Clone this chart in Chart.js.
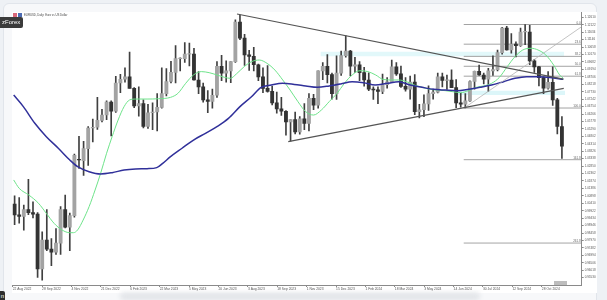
<!DOCTYPE html>
<html><head><meta charset="utf-8">
<script src="https://cdn.jsdelivr.net/npm/chart.js@4.4.1/dist/chart.umd.min.js"></script>
<style>
html,body{margin:0;padding:0;width:607px;height:300px;overflow:hidden;background:#eef1f5;font-family:"Liberation Sans",Arial,sans-serif;}
#card{position:absolute;left:3px;top:3px;width:594px;height:310px;background:#f7f8fa;border:1px solid #e1e5eb;border-radius:6px;box-sizing:border-box;}
#win{position:absolute;left:12px;top:12px;width:585px;height:281px;background:#fff;}
#shadow{position:absolute;left:120px;top:292px;width:360px;height:8px;background:linear-gradient(#e9ebee,#dfe2e6);border-radius:4px;filter:blur(2px);}
#c{position:absolute;left:0;top:0;}
#title{position:absolute;left:24px;top:12.5px;font-size:2.8px;color:#444;white-space:nowrap;}
.flag{position:absolute;top:13px;width:4.5px;height:3.6px;}
#badge{position:absolute;left:0;top:17px;width:23px;height:11px;background:#3b3b3b;border-radius:0 2px 2px 0;color:#fff;font-size:6px;line-height:11px;text-indent:2px;}
#badge2{position:absolute;left:-18px;top:291px;width:23px;height:11px;background:#2e2e2e;border-radius:2px;color:#fff;font-size:6px;line-height:10px;text-align:right;padding-right:1px;box-sizing:border-box;}
#marker{position:absolute;left:554px;top:281px;width:13px;height:3.5px;background:#bdbdbd;}
</style></head>
<body>
<div id="card"></div>
<div id="win"></div>
<div id="shadow"></div>
<canvas id="c" width="607" height="300"></canvas>
<div class="flag" style="left:12.5px;background:#d9687a"></div>
<div class="flag" style="left:17.5px;background:#4d6bb3"></div>
<div id="title">EURUSD, Daily: Euro vs US Dollar</div>
<div id="badge">zForex</div>
<div id="badge2">n</div>
<div id="marker"></div>
<script>
// ---- DATA (EUR/USD, one candle per 5 bars of the daily chart) ----
const opens = [
1.0035,0.9965,0.9955,1.0000,0.9980,0.9970,0.9610,0.9800,0.9740,0.9720,
0.9780,1.0000,0.9885,0.9960,1.0330,1.0320,1.0400,1.0535,1.0540,1.0585,
1.0620,1.0705,1.0645,1.0830,1.0855,1.0870,1.0795,1.0680,1.0695,1.0545,
1.0635,1.0640,1.0670,1.0760,1.0840,1.0900,1.0990,1.0990,1.1020,1.1020,
1.0850,1.0805,1.0720,1.0710,1.0750,1.0940,1.0895,1.0910,1.0970,1.1230,
1.1125,1.1015,1.1005,1.0950,1.0870,1.0795,1.0775,1.0700,1.0660,1.0645,
1.0575,1.0590,1.0510,1.0595,1.0565,1.0730,1.0685,1.0910,1.0940,1.0885,
1.0760,1.0895,1.1010,1.1040,1.0940,1.0950,1.0898,1.0850,1.0790,1.0785,
1.0775,1.0820,1.0838,1.0937,1.0890,1.0808,1.0790,1.0836,1.0642,1.0655,
1.0693,1.0760,1.0770,1.0870,1.0847,1.0850,1.0800,1.0700,1.0692,1.0713,
1.0840,1.0907,1.0883,1.0855,1.0910,1.0918,1.1030,1.1190,1.1047,1.1085,
1.1075,1.1165,1.1165,1.0975,1.0936,1.0866,1.0797,1.0834,1.0720,1.0545];
const highs = [
1.0090,1.0079,1.0030,1.0198,1.0050,0.9980,0.9853,0.9999,0.9809,0.9875,
1.0020,1.0094,0.9976,1.0364,1.0481,1.0448,1.0545,1.0594,1.0736,1.0658,
1.0714,1.0713,1.0874,1.0887,1.0929,1.1033,1.0800,1.0805,1.0720,1.0691,
1.0700,1.0760,1.0930,1.0925,1.0973,1.1075,1.0995,1.1095,1.1092,1.1057,
1.0905,1.0830,1.0780,1.0790,1.0970,1.1012,1.0976,1.0970,1.1245,1.1276,
1.1150,1.1045,1.1065,1.0955,1.0930,1.0945,1.0810,1.0770,1.0737,1.0650,
1.0590,1.0640,1.0610,1.0695,1.0760,1.0756,1.0910,1.0965,1.1017,1.0895,
1.1009,1.1040,1.1139,1.1045,1.0998,1.0970,1.0933,1.0897,1.0805,1.0805,
1.0888,1.0865,1.0981,1.0964,1.0942,1.0865,1.0876,1.0885,1.0690,1.0752,
1.0812,1.0791,1.0895,1.0895,1.0882,1.0916,1.0852,1.0762,1.0761,1.0844,
1.0908,1.0948,1.0895,1.0926,1.1008,1.1047,1.1195,1.1202,1.1155,1.1100,
1.1190,1.1214,1.1209,1.0985,1.0940,1.0870,1.0905,1.0937,1.0730,1.0610];
const lows = [
0.9901,0.9910,0.9864,0.9966,0.9945,0.9554,0.9536,0.9730,0.9632,0.9705,
0.9705,0.9880,0.9730,0.9950,1.0270,1.0223,1.0290,1.0443,1.0525,1.0575,
1.0590,1.0483,1.0637,1.0766,1.0835,1.0797,1.0669,1.0613,1.0536,1.0533,
1.0524,1.0516,1.0665,1.0745,1.0830,1.0830,1.0910,1.0965,1.0942,1.0848,
1.0760,1.0705,1.0635,1.0665,1.0735,1.0845,1.0835,1.0833,1.0965,1.1115,
1.0945,1.0912,1.0910,1.0845,1.0766,1.0770,1.0686,1.0632,1.0617,1.0488,
1.0448,1.0496,1.0495,1.0524,1.0515,1.0656,1.0665,1.0852,1.0830,1.0724,
1.0723,1.0880,1.1000,1.0877,1.0900,1.0845,1.0810,1.0780,1.0722,1.0695,
1.0760,1.0796,1.0835,1.0880,1.0802,1.0777,1.0724,1.0623,1.0601,1.0610,
1.0650,1.0724,1.0765,1.0805,1.0788,1.0800,1.0668,1.0671,1.0666,1.0710,
1.0790,1.0880,1.0825,1.0775,1.0880,1.0910,1.1020,1.1045,1.1026,1.1001,
1.1070,1.1082,1.0951,1.0900,1.0811,1.0761,1.0790,1.0683,1.0496,1.0335];
const closes = [
0.9965,0.9955,1.0000,0.9980,0.9970,0.9610,0.9800,0.9740,0.9720,0.9780,
1.0000,0.9885,0.9960,1.0355,1.0325,1.0400,1.0535,1.0540,1.0585,1.0620,
1.0705,1.0645,1.0830,1.0855,1.0870,1.0795,1.0680,1.0695,1.0545,1.0635,
1.0640,1.0670,1.0760,1.0840,1.0900,1.0990,1.0990,1.1020,1.1020,1.0850,
1.0805,1.0720,1.0710,1.0750,1.0940,1.0895,1.0910,1.0970,1.1230,1.1125,
1.1015,1.1005,1.0950,1.0870,1.0795,1.0775,1.0700,1.0660,1.0645,1.0575,
1.0590,1.0510,1.0595,1.0565,1.0730,1.0685,1.0910,1.0940,1.0885,1.0760,
1.0895,1.1010,1.1040,1.0940,1.0950,1.0898,1.0850,1.0790,1.0785,1.0775,
1.0820,1.0838,1.0937,1.0890,1.0808,1.0790,1.0836,1.0642,1.0655,1.0693,
1.0760,1.0770,1.0870,1.0847,1.0850,1.0800,1.0700,1.0692,1.0713,1.0840,
1.0907,1.0883,1.0855,1.0910,1.0918,1.1030,1.1190,1.1047,1.1085,1.1075,
1.1165,1.1165,1.0975,1.0936,1.0866,1.0797,1.0834,1.0720,1.0545,1.0415];

// moving averages (bar position, price)
const fastMaBar = [0.3,1.5,3.6,5.7,7.4,9.1,10.8,12.5,13.3,14.2,15.4,16.7,18.0,19.2,20.5,21.7,23.0,24.3,25.5,26.8,29.3,31.8,34.4,36.0,37.7,39.4,41.1,42.8,44.5,46.2,47.4,48.7,50.4,52.0,53.7,55.4,57.1,58.8,60.4,62.1,63.8,65.5,67.2,68.9,70.6,72.2,73.9,75.6,77.3,79.0,80.6,82.3,84.0,85.7,87.4,89.1,90.8,92.4,94.1,95.8,97.5,99.2,100.9,102.5,104.2,105.9,107.6,109.3,111.0,112.8,114.3,116.0,117.7,119.0,119.8];
const fastMaVal = [1.0194,1.0139,1.0095,1.0041,0.9975,0.9909,0.9866,0.9848,0.9848,0.9866,0.9931,1.0019,1.0128,1.0237,1.0369,1.0478,1.0587,1.0675,1.0719,1.0725,1.0725,1.0727,1.0736,1.0762,1.0828,1.0883,1.0905,1.0898,1.0883,1.0867,1.0861,1.0889,1.0937,1.0970,1.0981,1.0959,1.0915,1.0850,1.0784,1.0708,1.0642,1.0620,1.0653,1.0708,1.0762,1.0828,1.0883,1.0911,1.0905,1.0883,1.0854,1.0850,1.0850,1.0839,1.0817,1.0802,1.0789,1.0784,1.0780,1.0773,1.0767,1.0780,1.0802,1.0811,1.0828,1.0867,1.0937,1.1003,1.1047,1.1058,1.1047,1.1014,1.0948,1.0883,1.0861];
const slowMaBar = [0.3,2.4,4.9,7.4,10.0,12.5,14.2,16.7,19.2,21.7,24.3,26.8,29.3,31.4,32.7,34.4,36.9,39.4,42.0,44.5,47.0,49.5,52.0,54.1,56.3,58.8,61.3,63.8,66.3,68.9,71.4,73.9,76.4,78.9,81.5,84.0,86.5,89.1,91.6,94.1,96.7,99.2,101.7,104.2,106.8,109.3,111.8,114.3,116.9,119.8];
const slowMaVal = [1.0751,1.0675,1.0566,1.0478,1.0402,1.0325,1.0281,1.0248,1.0233,1.0242,1.0259,1.0266,1.0268,1.0275,1.0303,1.0347,1.0402,1.0456,1.0500,1.0544,1.0598,1.0675,1.0740,1.0802,1.0817,1.0828,1.0821,1.0811,1.0802,1.0811,1.0824,1.0839,1.0832,1.0817,1.0828,1.0839,1.0817,1.0802,1.0789,1.0784,1.0780,1.0789,1.0802,1.0817,1.0839,1.0861,1.0872,1.0872,1.0867,1.0854];

// drawn objects (bar position, price)
const upperTrend = [[48.85,1.1283],[119.8,1.0856]];
const lowerTrend = [[60.0,1.0445],[119.9,1.0795]];
const thinRay    = [[98.15,1.0664],[123.8,1.1200]];
const fibLevels  = [0.0,23.6,38.2,50.0,61.8,100.0,161.8,261.8];
const fibPrices  = [1.1214,1.1085,1.1005,1.0940,1.0875,1.0666,1.0327,0.9780];
const fibFrom = 98.15, fibTo = 123.8;
const zoneA = {from:67.0, to:120.0, top:1.1036, bottom:1.1005};
const zoneB = {from:96.0, to:120.2, top:1.0780, bottom:1.0751};

// axis labels
const dateLabels = ["22 Aug 2022","28 Sep 2022","4 Nov 2022","21 Dec 2022","6 Feb 2023","22 Mar 2023","5 May 2023","20 Jun 2023","3 Aug 2023","18 Sep 2023","1 Nov 2023","15 Dec 2023","1 Feb 2024","18 Mar 2024","3 May 2024","14 Jun 2024","30 Jul 2024","12 Sep 2024","28 Oct 2024"];
const dateTickBars = [0.09,6.48,12.87,19.26,25.65,32.04,38.43,44.82,51.22,57.61,64.0,70.39,76.78,83.17,89.56,95.95,102.34,108.73,115.13];
const priceTicks = [1.12610,1.12122,1.11634,1.11146,1.10658,1.10170,1.09682,1.09194,1.08706,1.08218,1.07730,1.07242,1.06754,1.06266,1.05778,1.05290,1.04802,1.04314,1.03826,1.03338,1.02850,1.02362,1.01874,1.01386,1.00898,1.00410,0.99922,0.99434,0.98946,0.98458,0.97970,0.97482,0.96994,0.96506,0.96018,0.95530];

// ---- CHART ----
const FONT = '"Liberation Sans", Arial, sans-serif';
const bull = '#a3a3a3', bear = '#333333';
const wickData = highs.map((h,i)=>({x:i+0.5, y:[lows[i],h]}));
const bodyData = opens.map((o,i)=>({x:i+0.5, y:[o,closes[i]]}));
const bodyColors = opens.map((o,i)=> closes[i]>=o ? bull : bear);
const seg = (pts)=>pts.map(p=>({x:p[0],y:p[1]}));
const lineDs = (data,color,width,order)=>({type:'line',data,borderColor:color,borderWidth:width,pointRadius:0,fill:false,tension:0,order});

const datasets = [
  {type:'line',data:[{x:zoneA.from,y:zoneA.top},{x:zoneA.to,y:zoneA.top}],borderWidth:0,pointRadius:0,fill:'+1',backgroundColor:'#e2f8fa',order:20},
  {type:'line',data:[{x:zoneA.from,y:zoneA.bottom},{x:zoneA.to,y:zoneA.bottom}],borderWidth:0,pointRadius:0,fill:false,order:20},
  {type:'line',data:[{x:zoneB.from,y:zoneB.top},{x:zoneB.to,y:zoneB.top}],borderWidth:0,pointRadius:0,fill:'+1',backgroundColor:'#dcf6f9',order:20},
  {type:'line',data:[{x:zoneB.from,y:zoneB.bottom},{x:zoneB.to,y:zoneB.bottom}],borderWidth:0,pointRadius:0,fill:false,order:20},
  ...fibPrices.map(p=>lineDs([{x:fibFrom,y:p},{x:fibTo,y:p}],'#8c8c8c',0.8,15)),
  {type:'bar',data:wickData,backgroundColor:'#404040',barThickness:1,grouped:false,order:8},
  {type:'bar',data:bodyData,backgroundColor:bodyColors,barThickness:3.2,grouped:false,minBarLength:0.6,order:7},
  {type:'line',data:fastMaBar.map((b,i)=>({x:b,y:fastMaVal[i]})),borderColor:'#6ee38a',borderWidth:1,pointRadius:0,fill:false,cubicInterpolationMode:'monotone',order:4},
  {type:'line',data:slowMaBar.map((b,i)=>({x:b,y:slowMaVal[i]})),borderColor:'#30309a',borderWidth:1.5,pointRadius:0,fill:false,cubicInterpolationMode:'monotone',order:3},
  lineDs(seg(upperTrend),'#555555',1.2,2),
  lineDs(seg(lowerTrend),'#555555',1.2,2),
  lineDs(seg(thinRay),'#b4b4b4',0.8,2)
];

const fibLabelPlugin = {
  id:'fibLabels',
  afterDatasetsDraw(chart){
    const {ctx, scales:{x,y}} = chart;
    ctx.save();
    ctx.font = '3px ' + FONT;
    ctx.fillStyle = '#666';
    ctx.textAlign = 'right';
    ctx.textBaseline = 'bottom';
    fibLevels.forEach((lv,k)=>{
      ctx.fillText(lv.toFixed(1), x.getPixelForValue(fibTo)-1, y.getPixelForValue(fibPrices[k])-0.3);
    });
    ctx.restore();
  }
};

new Chart(document.getElementById('c'), {
  type:'bar',
  data:{datasets},
  plugins:[fibLabelPlugin],
  options:{
    responsive:false, animation:false, devicePixelRatio:1,
    layout:{padding:{left:12.3, top:12, right:0, bottom:0}},
    plugins:{legend:{display:false}, tooltip:{enabled:false}},
    scales:{
      x:{type:'linear', min:0, max:123.8, offset:false,
        grid:{drawOnChartArea:false, drawTicks:true, tickLength:2, color:'#8a8a8a', offset:false},
        border:{display:true, color:'#8a8a8a', width:1},
        afterFit:s=>{s.height=15;},
        afterBuildTicks:s=>{s.ticks = dateTickBars.map(v=>({value:v}));},
        ticks:{autoSkip:false, maxRotation:0, minRotation:0, align:'start', padding:0.5,
          font:{size:3.3, family:FONT}, color:'#555',
          callback:(v,i)=>dateLabels[i]}
      },
      y:{type:'linear', position:'right', min:0.95048, max:1.12961,
        afterFit:s=>{s.width=25.3;},
        afterBuildTicks:s=>{s.ticks = priceTicks.map(v=>({value:v}));},
        grid:{drawOnChartArea:false, tickLength:2, color:'#8a8a8a'},
        border:{display:true, color:'#8a8a8a', width:1},
        ticks:{autoSkip:false, padding:1, font:{size:3, family:FONT}, color:'#555',
          callback:v=>v.toFixed(5)}
      }
    }
  }
});
</script>
</body></html>
